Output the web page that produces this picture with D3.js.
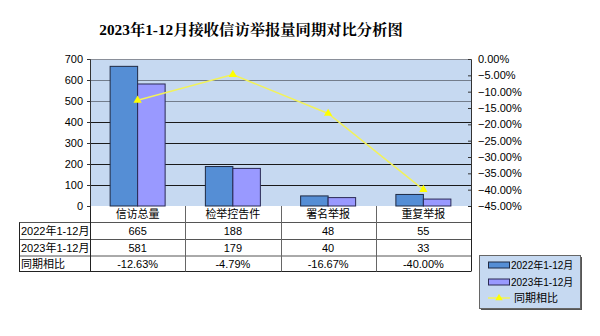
<!DOCTYPE html>
<html><head><meta charset="utf-8">
<script src="https://cdn.jsdelivr.net/npm/d3@7"></script>
<style>body{margin:0;background:#fff}svg{display:block}</style>
</head><body>
<script>
const categories = ["信访总量", "检举控告件", "署名举报", "重复举报"];
const seriesNames = ["2022年1-12月", "2023年1-12月", "同期相比"];
const values2022 = [665, 188, 48, 55];
const values2023 = [581, 179, 40, 33];
const yoy = [-12.63, -4.79, -16.67, -40.00];
const yoyLabels = ["-12.63%", "-4.79%", "-16.67%", "-40.00%"];
const leftTicks = [0, 100, 200, 300, 400, 500, 600, 700];
const rightTicks = [0, -5, -10, -15, -20, -25, -30, -35, -40, -45];

const W = 600, H = 336;
const svg = d3.select("body").append("svg").attr("width", W).attr("height", H);
const L = 90, R = 471, T = 59, B = 206;
const font = "'Liberation Sans', Arial, 'Noto Sans CJK SC', sans-serif";

svg.append("text").attr("x", 251).attr("y", 35).attr("text-anchor", "middle")
  .attr("font-family", "'Liberation Serif', 'Noto Serif CJK SC', 'Noto Sans CJK SC', serif")
  .attr("font-weight", "bold").attr("font-size", 15.3).attr("fill", "#000")
  .text("2023年1-12月接收信访举报量同期对比分析图");

const x = d3.scaleBand().domain(categories).range([L, R]);
const y = d3.scaleLinear().domain([0, 700]).range([B, T]);
const y2 = d3.scaleLinear().domain([-45, 0]).range([B, T]);

svg.append("rect").attr("x", L).attr("y", T).attr("width", R - L).attr("height", B - T).attr("fill", "#c6d9f1");

// gridlines
svg.append("g").selectAll("line").data(leftTicks.filter(d => d > 0 && d < 700)).join("line")
  .attr("x1", L).attr("x2", R).attr("y1", d => Math.round(y(d)) + 0.5).attr("y2", d => Math.round(y(d)) + 0.5)
  .attr("stroke", d => d >= 500 ? "#737d8c" : "#1a1a1a").attr("stroke-width", 1);
svg.append("line").attr("x1", L).attr("x2", R).attr("y1", T + 0.5).attr("y2", T + 0.5).attr("stroke", "#8a8f99");

// bars
const bw = 27.5;
const bars = svg.append("g");
bars.selectAll(".b1").data(values2022).join("rect")
  .attr("x", (d, i) => x(categories[i]) + x.bandwidth() / 2 - bw).attr("width", bw)
  .attr("y", d => y(d)).attr("height", d => B - y(d))
  .attr("fill", "#558ed5").attr("stroke", "#1f2a44").attr("stroke-width", 1);
bars.selectAll(".b2").data(values2023).join("rect")
  .attr("x", (d, i) => x(categories[i]) + x.bandwidth() / 2).attr("width", bw)
  .attr("y", d => y(d)).attr("height", d => B - y(d))
  .attr("fill", "#9999ff").attr("stroke", "#2a2a55").attr("stroke-width", 1);

// left axis
const la = svg.append("g").attr("transform", `translate(${L},0)`)
  .call(d3.axisLeft(y).tickValues(leftTicks).tickSize(3).tickPadding(4).tickFormat(d3.format("d")));
la.select(".domain").attr("stroke", "#333");
la.selectAll(".tick line").attr("stroke", "#333");
la.selectAll("text").attr("font-family", font).attr("font-size", 11).attr("fill", "#000");

// right axis
const ra = svg.append("g").attr("transform", `translate(${R},0)`)
  .call(d3.axisRight(y2).tickValues(rightTicks).tickSize(-3).tickPadding(7).tickFormat(d => d3.format(".2f")(d) + "%"));
ra.select(".domain").attr("stroke", "#333");
ra.selectAll(".tick line").attr("stroke", "#333");
ra.selectAll("text").attr("font-family", font).attr("font-size", 11).attr("fill", "#000")
  .text(d => (d === 0 ? "0.00" : d3.format(".2f")(d)) + "%");

// line
const line = d3.line().x((d, i) => x(categories[i]) + x.bandwidth() / 2).y(d => y2(d));
svg.append("path").attr("d", line(yoy)).attr("fill", "none").attr("stroke", "#f2f25a").attr("stroke-width", 1.5);
const tri = d3.symbol().type(d3.symbolTriangle).size(30);
svg.append("g").selectAll("path").data(yoy).join("path")
  .attr("transform", (d, i) => `translate(${x(categories[i]) + x.bandwidth() / 2},${y2(d)})`)
  .attr("d", tri).attr("fill", "#ffff00");

// data table
const TL = 19;
const rowY = [206, 222.5, 239.5, 256, 271.5];
const tb = svg.append("g");
[1, 2, 3, 4].forEach(k => {
  tb.append("line").attr("x1", TL).attr("x2", R).attr("y1", rowY[k]).attr("y2", rowY[k])
    .attr("stroke", k === 4 ? "#222" : "#555");
});
tb.append("line").attr("x1", TL + 0.5).attr("x2", TL + 0.5).attr("y1", rowY[1]).attr("y2", rowY[4]).attr("stroke", "#222");
const vx = [L, ...categories.slice(1).map(c => x(c)), R];
vx.forEach((v, i) => {
  tb.append("line").attr("x1", Math.round(v) + 0.5).attr("x2", Math.round(v) + 0.5).attr("y1", rowY[0]).attr("y2", rowY[4])
    .attr("stroke", (i === 0 || i === vx.length - 1) ? "#222" : "#666");
});
const mid = k => (rowY[k] + rowY[k + 1]) / 2 + 4;
tb.selectAll(".cat").data(categories).join("text")
  .attr("x", d => x(d) + x.bandwidth() / 2).attr("y", mid(0)).attr("text-anchor", "middle")
  .attr("font-family", font).attr("font-size", 11).text(d => d);
const rows = [values2022.map(String), values2023.map(String), yoyLabels];
rows.forEach((r, k) => {
  tb.append("text").attr("x", TL + 2).attr("y", mid(k + 1)).attr("font-family", font).attr("font-size", 11)
    .text(seriesNames[k]);
  r.forEach((v, i) => {
    tb.append("text").attr("x", x(categories[i]) + x.bandwidth() / 2).attr("y", mid(k + 1))
      .attr("text-anchor", "middle").attr("font-family", font).attr("font-size", 11).text(v);
  });
});

// legend
const lg = svg.append("g");
lg.append("rect").attr("x", 481).attr("y", 257).attr("width", 101).attr("height", 53).attr("fill", "#555");
lg.append("rect").attr("x", 479.5).attr("y", 255.5).attr("width", 101).attr("height", 53)
  .attr("fill", "#c6d9f1").attr("stroke", "#666");
const ly = [264.5, 281.5, 298];
lg.append("rect").attr("x", 488.5).attr("y", ly[0] - 2.5).attr("width", 21).attr("height", 6).attr("fill", "#558ed5").attr("stroke", "#1f2a44");
lg.append("rect").attr("x", 488.5).attr("y", ly[1] - 2.5).attr("width", 21).attr("height", 6).attr("fill", "#9999ff").attr("stroke", "#2a2a55");
lg.append("line").attr("x1", 488).attr("x2", 510).attr("y1", ly[2]).attr("y2", ly[2]).attr("stroke", "#f2f25a").attr("stroke-width", 1.5);
lg.append("path").attr("transform", `translate(499,${ly[2]})`).attr("d", d3.symbol().type(d3.symbolTriangle).size(24)).attr("fill", "#ffff00");
seriesNames.forEach((s, k) => {
  lg.append("text").attr("x", k === 2 ? 514 : 511).attr("y", ly[k] + 4).attr("font-family", font)
    .attr("font-size", k === 2 ? 11 : 10).text(s);
});
</script>
</body></html>
